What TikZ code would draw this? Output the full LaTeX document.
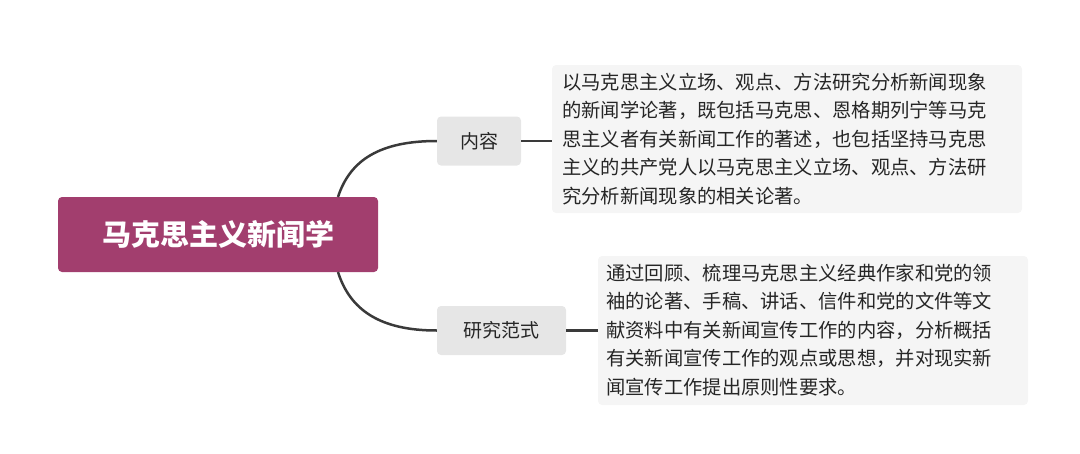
\documentclass[tikz,border=0pt]{standalone}
\usepackage{fontspec}
\setmainfont{Noto Sans CJK SC}
\definecolor{rootc}{HTML}{A23E6E}
\definecolor{subc}{HTML}{E6E6E6}
\definecolor{txtc}{HTML}{F5F5F5}
\definecolor{linec}{HTML}{3A3A3A}
\begin{document}
\begin{tikzpicture}[x=1pt,y=-1pt,
  rootbox/.style={fill=rootc,rounded corners=4pt,text=white,font=\fontsize{29}{34}\selectfont\bfseries,minimum width=320pt,minimum height=75pt,inner sep=0pt},
  subbox/.style={fill=subc,rounded corners=4pt,font=\fontsize{19}{22}\selectfont,minimum height=49pt,inner sep=0pt,text=black!85},
  txtbox/.style={fill=txtc,rounded corners=4pt,font=\fontsize{19.3}{28.5}\selectfont,align=left,inner sep=0pt,text=black!85},
  conn/.style={draw=linec,line width=2.5pt}]
\useasboundingbox (0,0) rectangle (1080,453);
\node[rootbox] (root) at (218,234.5) {马克思主义新闻学};
\node[subbox,minimum width=84pt] (a) at (479,141) {内容};
\node[subbox,minimum width=129pt] (b) at (501.5,330.5) {研究范式};
\fill[txtc,rounded corners=4pt] (552,65) rectangle (1022,213);
\node[txtbox,anchor=west] (ta) at (562,139) {以马克思主义立场、观点、方法研究分析新闻现象\\的新闻学论著，既包括马克思、恩格期列宁等马克\\思主义者有关新闻工作的著述，也包括坚持马克思\\主义的共产党人以马克思主义立场、观点、方法研\\究分析新闻现象的相关论著。};
\fill[txtc,rounded corners=4pt] (598,256) rectangle (1028,405);
\node[txtbox,anchor=west] (tb) at (606,330) {通过回顾、梳理马克思主义经典作家和党的领\\袖的论著、手稿、讲话、信件和党的文件等文\\献资料中有关新闻宣传工作的内容，分析概括\\有关新闻宣传工作的观点或思想，并对现实新\\闻宣传工作提出原则性要求。};
\coordinate (p1) at (338,197);
\coordinate (p2) at (338,272);
\draw[conn] (p1) .. controls (350,160) and (380,141) .. (a.west);
\draw[conn] (p2) .. controls (350,310) and (380,330.5) .. (b.west);
\draw[conn] (a.east) -- (552,141);
\draw[conn] (b.east) -- (598,330.5);
\end{tikzpicture}
\end{document}
